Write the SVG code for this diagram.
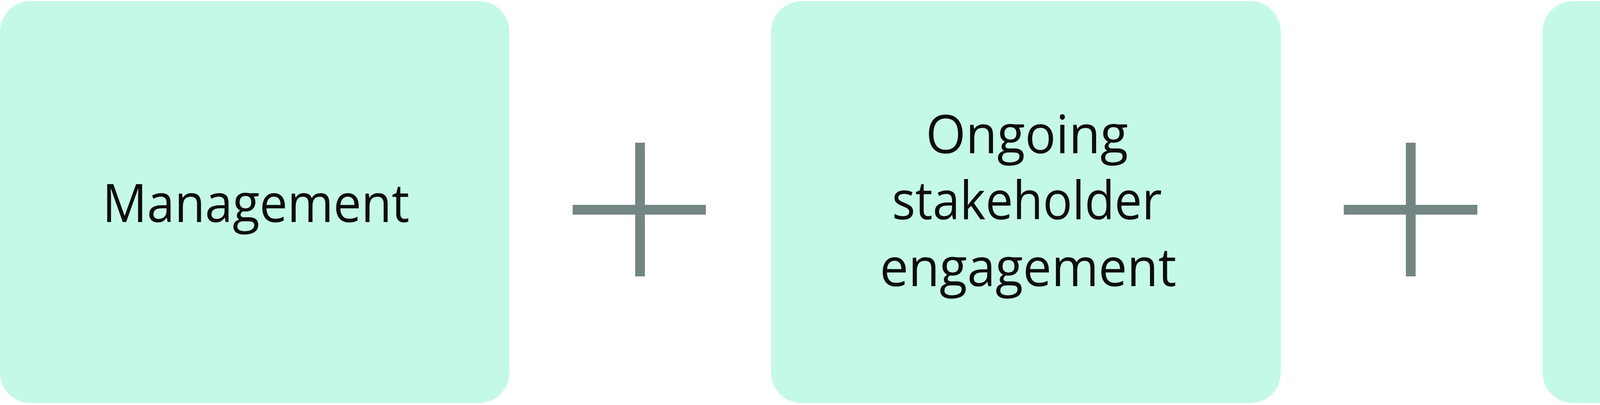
<svg xmlns="http://www.w3.org/2000/svg" width="7224" height="1036" viewBox="0 0 7224 1036">
  <style>
    .box { fill: #C5F9E7; }
    .lbl { font-family: "Open Sans", "Noto Sans", "Liberation Sans", sans-serif; font-size: 136px; fill: #0d0d0d; text-anchor: middle; }
    .op { fill: #738684; }
  </style>
  <rect width="7224" height="1036" fill="#ffffff"/>
  <g id="node-management">
    <rect class="box" x="0" y="3" width="1304" height="1028" rx="78" ry="78"/>
    <text class="lbl" x="655" y="568" textLength="786" lengthAdjust="spacingAndGlyphs">Management</text>
  </g>
  <g id="node-engagement">
    <rect class="box" x="1974" y="3" width="1305" height="1028" rx="78" ry="78"/>
    <text class="lbl" x="2629" y="392" textLength="518" lengthAdjust="spacingAndGlyphs">Ongoing</text>
    <text class="lbl" x="2629" y="561" textLength="691" lengthAdjust="spacingAndGlyphs">stakeholder</text>
    <text class="lbl" x="2632" y="732" textLength="759" lengthAdjust="spacingAndGlyphs">engagement</text>
  </g>
  <g id="node-performance">
    <rect class="box" x="3949" y="3" width="1307" height="1028" rx="78" ry="78"/>
    <text class="lbl" x="4608" y="556" textLength="747" lengthAdjust="spacingAndGlyphs">Performance</text>
  </g>
  <g id="node-result">
    <rect class="box" x="5923" y="3" width="1305" height="1028" rx="78" ry="78"/>
    <text class="lbl" x="6579" y="398" textLength="734" lengthAdjust="spacingAndGlyphs">Accountable</text>
    <text class="lbl" x="6579" y="569" textLength="852" lengthAdjust="spacingAndGlyphs">cost recovered</text>
    <text class="lbl" x="6582" y="739" textLength="431" lengthAdjust="spacingAndGlyphs">activity</text>
  </g>
  <g id="connectors">
    <g id="plus-1">
      <rect class="op" x="1466" y="524" width="341" height="25"/>
      <rect class="op" x="1626" y="365" width="25" height="342"/>
    </g>
    <g id="plus-2">
      <rect class="op" x="3440" y="524" width="342" height="25"/>
      <rect class="op" x="3599" y="365" width="25" height="342"/>
    </g>
    <g id="equals">
      <rect class="op" x="5437" y="447" width="342" height="25"/>
      <rect class="op" x="5437" y="601" width="342" height="25"/>
    </g>
  </g>
</svg>
